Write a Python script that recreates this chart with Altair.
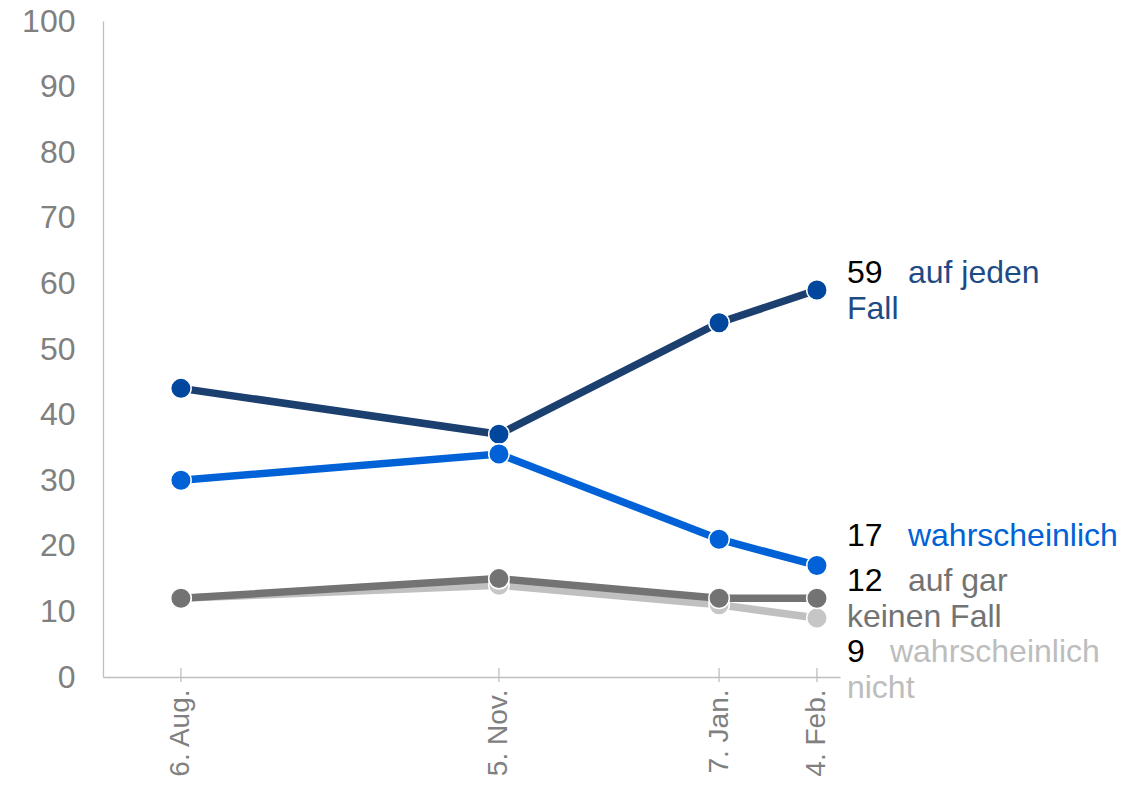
import altair as alt
import pandas as pd

# ---- data ----
dates = ["2019-08-06", "2019-11-05", "2020-01-07", "2020-02-04"]
tick_labels = ["6. Aug.", "5. Nov.", "7. Jan.", "4. Feb."]

series_names = ["wahrscheinlich nicht", "auf gar keinen Fall", "auf jeden Fall", "wahrscheinlich"]
values_nicht = [12, 14, 11, 9]
values_gar = [12, 15, 12, 12]
values_jeden = [44, 37, 54, 59]
values_wahr = [30, 34, 21, 17]

line_colors = ["#c0c0c0", "#737373", "#1b3f6f", "#0062d6"]
point_colors = ["#c6c6c6", "#737373", "#00479d", "#0062d6"]
text_colors = ["#bdbdbd", "#737373", "#1f4b85", "#0062d6"]

# end labels
label_numbers = [9, 12, 59, 17]
label_line1 = ["wahrscheinlich", "auf gar", "auf jeden", "wahrscheinlich"]
label_line2 = ["nicht", "keinen Fall", "Fall", ""]
label_y1 = [3.8, 14.6, 61.6, 21.5]
label_y2 = [-1.7, 9.15, 56.1, None]

FONT = "Liberation Sans"
FS_Y = 32
FS_X = 28
FS_T = 32

t0 = pd.Timestamp(dates[0])
days = [(pd.Timestamp(d) - t0).days for d in dates]

all_values = [values_nicht, values_gar, values_jeden, values_wahr]
rows = []
for name, vals in zip(series_names, all_values):
    for d, v in zip(days, vals):
        rows.append({"series": name, "day": d, "value": v})
df = pd.DataFrame(rows)

x_domain = [-22.3, 188.6]
W, H = 737, 656

label_expr = "''"
for d, lab in reversed(list(zip(days, tick_labels))):
    label_expr = f"datum.value == {d} ? '{lab}' : ({label_expr})"

x_enc = alt.X(
    "day:Q",
    scale=alt.Scale(domain=x_domain, nice=False, zero=False),
    axis=alt.Axis(
        values=days, labelExpr=label_expr, title=None, grid=False, ticks=False,
        domainColor="#bfbfbf", domainWidth=1.3, labelAngle=-90, labelPadding=12,
        labelFontSize=FS_X, labelColor="#808080", labelFont=FONT,
    ),
)
y_enc = alt.Y(
    "value:Q",
    scale=alt.Scale(domain=[0, 100], nice=False),
    axis=alt.Axis(
        values=list(range(0, 101, 10)), title=None, grid=False, ticks=False,
        domainColor="#bfbfbf", domainWidth=1.3, labelPadding=28,
        labelFontSize=FS_Y, labelColor="#808080", labelFont=FONT,
    ),
)

layers = []

# crossing tick marks on x axis
tick_df = pd.DataFrame({"day": days})
layers.append(
    alt.Chart(tick_df).mark_rule(color="#bfbfbf", strokeWidth=1.3).encode(
        x=alt.X("day:Q", scale=alt.Scale(domain=x_domain, nice=False, zero=False)),
        y=alt.value(H - 9), y2=alt.value(H + 5),
    )
)

for i, name in enumerate(series_names):
    base = alt.Chart(df).transform_filter(alt.datum.series == name)
    layers.append(base.mark_line(color=line_colors[i], strokeWidth=7.5).encode(x=x_enc, y=y_enc))
for i, name in enumerate(series_names):
    base = alt.Chart(df).transform_filter(alt.datum.series == name)
    layers.append(
        base.mark_point(filled=True, shape="circle", size=420, opacity=1,
                        color=point_colors[i], stroke="white", strokeWidth=1.5).encode(x=x_enc, y=y_enc)
    )

last_day = days[-1]
for i in range(len(series_names)):
    num = label_numbers[i]
    ldf = pd.DataFrame([{"day": last_day, "y": label_y1[i], "num": str(num), "t1": label_line1[i]}])
    name_dx = 91 if num >= 10 else 73
    layers.append(
        alt.Chart(ldf).mark_text(align="left", baseline="middle", dx=30, font=FONT,
                                 fontSize=FS_T, color="black").encode(
            x=alt.X("day:Q"), y=alt.Y("y:Q"), text="num:N")
    )
    layers.append(
        alt.Chart(ldf).mark_text(align="left", baseline="middle", dx=name_dx, font=FONT,
                                 fontSize=FS_T, color=text_colors[i]).encode(
            x=alt.X("day:Q"), y=alt.Y("y:Q"), text="t1:N")
    )
    if label_line2[i]:
        l2 = pd.DataFrame([{"day": last_day, "y": label_y2[i], "t2": label_line2[i]}])
        layers.append(
            alt.Chart(l2).mark_text(align="left", baseline="middle", dx=30, font=FONT,
                                    fontSize=FS_T, color=text_colors[i]).encode(
                x=alt.X("day:Q"), y=alt.Y("y:Q"), text="t2:N")
        )

chart = alt.layer(*layers).properties(
    width=W, height=H,
    background="white",
    padding={"left": 95, "top": 13, "right": 290, "bottom": 100},
    autosize=alt.AutoSizeParams(type="none"),
).configure_view(strokeWidth=0, stroke="transparent")

chart.save("out.html", embed_options={"renderer": "svg", "actions": False})
